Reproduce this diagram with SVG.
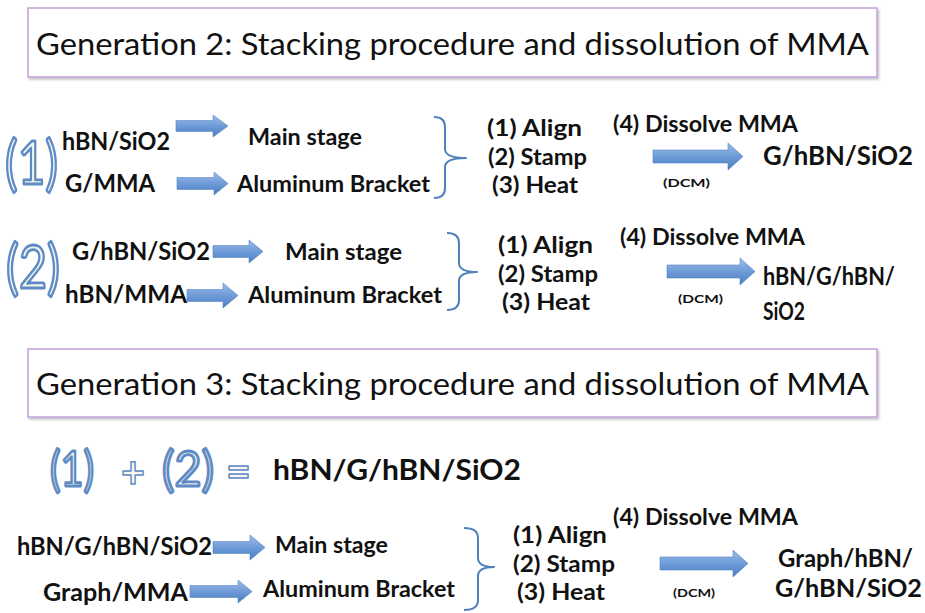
<svg xmlns="http://www.w3.org/2000/svg" width="925" height="613" viewBox="0 0 925 613">
  <defs>
    <linearGradient id="arrowFill" x1="0" y1="0" x2="0" y2="1">
      <stop offset="0" stop-color="#9dbde8"/>
      <stop offset="0.5" stop-color="#6f9bd8"/>
      <stop offset="1" stop-color="#4a7ebf"/>
    </linearGradient>
    <filter id="boxShadow" x="-5%" y="-20%" width="110%" height="150%">
      <feDropShadow dx="1.5" dy="2" stdDeviation="1.2" flood-color="#808080" flood-opacity="0.45"/>
    </filter>
    <style>
      .title-box { fill: #ffffff; stroke: #c6a6e0; stroke-width: 1.6; }
      .title { font-family: Lato, "Liberation Sans", sans-serif; font-size: 30px; fill: #111; }
      .lbl { font-family: Lato, "Liberation Sans", sans-serif; font-weight: bold; fill: #111; }
      .src { font-size: 24px; }
      .dst { font-size: 22px; }
      .step { font-size: 22px; }
      .dcm { font-size: 11px; }
      .res { font-size: 24px; }
      .big { font-size: 28px; }
      /* outlined numerals: pale face with a blue rim */
      .outline { font-family: Lato, "Liberation Sans", sans-serif; fill: #f7f6ee; stroke: #5f8bc4; stroke-width: 2.8; stroke-linejoin: round; }
      .outline-op { font-family: Lato, "Liberation Sans", sans-serif; font-weight: bold; fill: #f7f6ee; stroke: #5f8bc4; stroke-width: 1.5; stroke-linejoin: round; }
      .arrow { fill: url(#arrowFill); stroke: #5585c2; stroke-width: 0.6; }
      .brace { fill: none; stroke: #4f81bd; stroke-width: 2; stroke-linejoin: round; }
    </style>
  </defs>

  <rect width="925" height="613" fill="#ffffff"/>

  <!-- Section headings -->
  <g id="heading-gen2">
    <rect class="title-box" x="28" y="8" width="849" height="69" filter="url(#boxShadow)"/>
    <text class="title" x="36" y="55" textLength="833" lengthAdjust="spacingAndGlyphs">Generation 2: Stacking procedure and dissolution of MMA</text>
  </g>
  <g id="heading-gen3">
    <rect class="title-box" x="28" y="349" width="849" height="68" filter="url(#boxShadow)"/>
    <text class="title" x="36" y="395" textLength="833" lengthAdjust="spacingAndGlyphs">Generation 3: Stacking procedure and dissolution of MMA</text>
  </g>

  <!-- Step 1 -->
  <g id="step1-number">
    <text class="outline" x="5" y="184" font-size="60" textLength="53" lengthAdjust="spacingAndGlyphs">(1)</text>
  </g>
  <g id="step1-substrate">
    <text class="lbl src" x="62" y="150" textLength="108" lengthAdjust="spacingAndGlyphs">hBN/SiO2</text>
  </g>
  <g id="step1-main-stage">
    <text class="lbl dst" x="248" y="145" textLength="114" lengthAdjust="spacingAndGlyphs">Main stage</text>
  </g>
  <g id="step1-film">
    <text class="lbl src" x="65" y="192" textLength="90" lengthAdjust="spacingAndGlyphs">G/MMA</text>
  </g>
  <g id="step1-bracket">
    <text class="lbl dst" x="237" y="192" textLength="193" lengthAdjust="spacingAndGlyphs">Aluminum Bracket</text>
  </g>
  <g id="step1-actions">
    <text class="lbl step" x="487" y="136" textLength="95" lengthAdjust="spacingAndGlyphs">(1)  Align</text>
    <text class="lbl step" x="488" y="165" textLength="99" lengthAdjust="spacingAndGlyphs">(2) Stamp</text>
    <text class="lbl step" x="492" y="193" textLength="86" lengthAdjust="spacingAndGlyphs">(3)  Heat</text>
  </g>
  <g id="step1-dissolve">
    <text class="lbl step" x="613" y="132" textLength="185" lengthAdjust="spacingAndGlyphs">(4) Dissolve MMA</text>
    <text class="lbl dcm" x="663" y="187" textLength="47" lengthAdjust="spacingAndGlyphs">(DCM)</text>
  </g>
  <g id="step1-result">
    <text class="lbl" x="763" y="165" font-size="27" textLength="150" lengthAdjust="spacingAndGlyphs">G/hBN/SiO2</text>
  </g>

  <!-- Step 2 -->
  <g id="step2-number">
    <text class="outline" x="6" y="288" font-size="60" textLength="54" lengthAdjust="spacingAndGlyphs">(2)</text>
  </g>
  <g id="step2-substrate">
    <text class="lbl src" x="72" y="260" textLength="138" lengthAdjust="spacingAndGlyphs">G/hBN/SiO2</text>
  </g>
  <g id="step2-main-stage">
    <text class="lbl dst" x="285" y="260" textLength="117" lengthAdjust="spacingAndGlyphs">Main stage</text>
  </g>
  <g id="step2-film">
    <text class="lbl src" x="65" y="303" textLength="122" lengthAdjust="spacingAndGlyphs">hBN/MMA</text>
  </g>
  <g id="step2-bracket">
    <text class="lbl dst" x="248" y="303" textLength="194" lengthAdjust="spacingAndGlyphs">Aluminum Bracket</text>
  </g>
  <g id="step2-actions">
    <text class="lbl step" x="498" y="253" textLength="95" lengthAdjust="spacingAndGlyphs">(1)  Align</text>
    <text class="lbl step" x="498" y="282" textLength="100" lengthAdjust="spacingAndGlyphs">(2) Stamp</text>
    <text class="lbl step" x="502" y="310" textLength="88" lengthAdjust="spacingAndGlyphs">(3)  Heat</text>
  </g>
  <g id="step2-dissolve">
    <text class="lbl step" x="620" y="245" textLength="185" lengthAdjust="spacingAndGlyphs">(4) Dissolve MMA</text>
    <text class="lbl dcm" x="678" y="303" textLength="45" lengthAdjust="spacingAndGlyphs">(DCM)</text>
  </g>
  <g id="step2-result">
    <text class="lbl res" x="763" y="285" textLength="132" lengthAdjust="spacingAndGlyphs">hBN/G/hBN/</text>
    <text class="lbl res" x="763" y="320" textLength="42" lengthAdjust="spacingAndGlyphs">SiO2</text>
  </g>

  <!-- Combined stack -->
  <g id="combined-equation">
    <text class="outline" x="50" y="486" font-size="48" textLength="44" lengthAdjust="spacingAndGlyphs">(1)</text>
    <text class="outline-op" x="121" y="488" font-size="44" textLength="24" lengthAdjust="spacingAndGlyphs">+</text>
    <text class="outline" x="162" y="486" font-size="48" textLength="52" lengthAdjust="spacingAndGlyphs">(2)</text>
    <text class="outline-op" x="226" y="487" font-size="44" textLength="25" lengthAdjust="spacingAndGlyphs">=</text>
    <text class="lbl big" x="273" y="480" textLength="248" lengthAdjust="spacingAndGlyphs">hBN/G/hBN/SiO2</text>
  </g>

  <!-- Step 3 -->
  <g id="step3-substrate">
    <text class="lbl src" x="17" y="555" textLength="195" lengthAdjust="spacingAndGlyphs">hBN/G/hBN/SiO2</text>
  </g>
  <g id="step3-main-stage">
    <text class="lbl dst" x="275" y="553" textLength="113" lengthAdjust="spacingAndGlyphs">Main stage</text>
  </g>
  <g id="step3-film">
    <text class="lbl src" x="43" y="601" textLength="145" lengthAdjust="spacingAndGlyphs">Graph/MMA</text>
  </g>
  <g id="step3-bracket">
    <text class="lbl dst" x="263" y="597" textLength="192" lengthAdjust="spacingAndGlyphs">Aluminum Bracket</text>
  </g>
  <g id="step3-actions">
    <text class="lbl step" x="513" y="543" textLength="94" lengthAdjust="spacingAndGlyphs">(1)  Align</text>
    <text class="lbl step" x="513" y="572" textLength="102" lengthAdjust="spacingAndGlyphs">(2) Stamp</text>
    <text class="lbl step" x="517" y="600" textLength="88" lengthAdjust="spacingAndGlyphs">(3)  Heat</text>
  </g>
  <g id="step3-dissolve">
    <text class="lbl step" x="613" y="525" textLength="185" lengthAdjust="spacingAndGlyphs">(4) Dissolve MMA</text>
    <text class="lbl dcm" x="673" y="597" textLength="42" lengthAdjust="spacingAndGlyphs">(DCM)</text>
  </g>
  <g id="step3-result">
    <text class="lbl res" x="778" y="567" textLength="135" lengthAdjust="spacingAndGlyphs">Graph/hBN/</text>
    <text class="lbl res" x="775" y="597" textLength="147" lengthAdjust="spacingAndGlyphs">G/hBN/SiO2</text>
  </g>

  <!-- Connectors: block arrows and braces -->
  <g id="connectors">
    <!-- step 1 -->
    <path class="arrow" d="M176,120.5 H213 V115 L228,126 L213,137 V131.5 H176 Z"/>
    <path class="arrow" d="M177,177.5 H214 V172 L228,183.5 L214,195 V189.5 H177 Z"/>
    <path class="brace" d="M434,117 Q445,117 445,127 V149 Q445,158 466,158 Q445,158 445,167 V188 Q445,198 434,198"/>
    <path class="arrow" d="M653,150 H728 V143 L743,156.5 L728,170 V163 H653 Z"/>
    <!-- step 2 -->
    <path class="arrow" d="M213,245.5 H249 V240 L263,251.5 L249,263 V257.5 H213 Z"/>
    <path class="arrow" d="M187,289.5 H223 V283 L238,295.5 L223,308 V301.5 H187 Z"/>
    <path class="brace" d="M447,233 Q459,233 459,243 V263 Q459,272 477,272 Q459,272 459,281 V300 Q459,310 447,310"/>
    <path class="arrow" d="M667,265 H740 V258 L755,271.5 L740,285 V278 H667 Z"/>
    <!-- step 3 -->
    <path class="arrow" d="M213,541.5 H250 V535 L265,547.5 L250,560 V553.5 H213 Z"/>
    <path class="arrow" d="M190,585.5 H238 V580 L252,591.5 L238,603 V597.5 H190 Z"/>
    <path class="brace" d="M464,528 Q478,528 478,538 V558 Q478,567 494,567 Q478,567 478,576 V600 Q478,610 464,610"/>
    <path class="arrow" d="M660,557 H733 V550 L748,563.5 L733,577 V570 H660 Z"/>
  </g>
</svg>
